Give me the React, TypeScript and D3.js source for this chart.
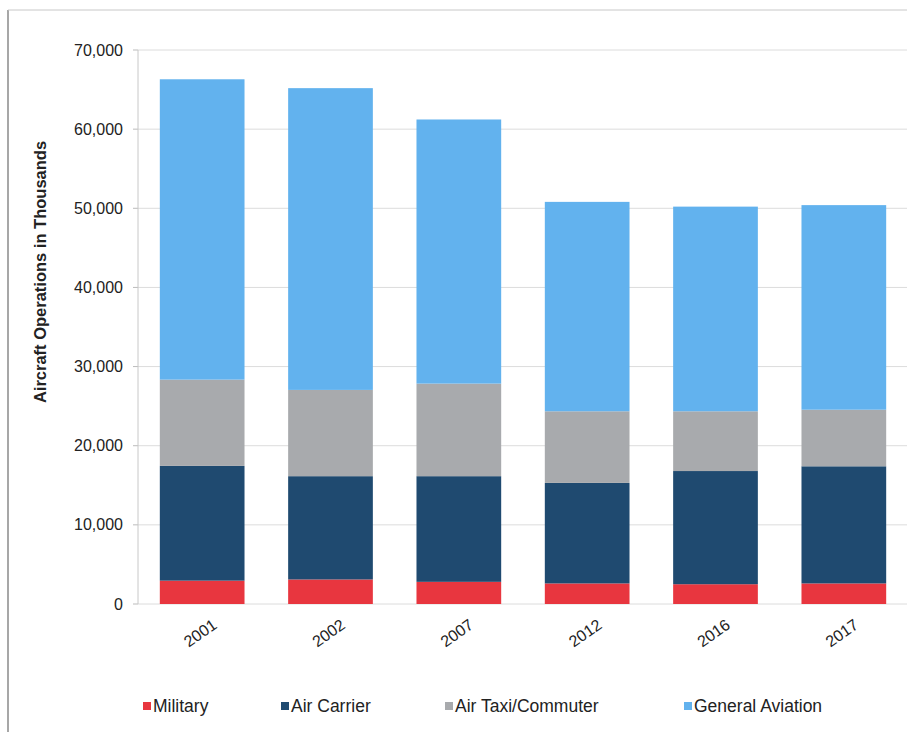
import React from "react";
import * as d3 from "d3";

const years = ["2001", "2002", "2007", "2012", "2016", "2017"];
const military = [2950, 3100, 2800, 2600, 2500, 2600];
const airCarrier = [14500, 13050, 13350, 12700, 14300, 14800];
const airTaxi = [10900, 10900, 11700, 9050, 7550, 7150];
const generalAviation = [37950, 38130, 33370, 26460, 25860, 25850];
const seriesNames = ["Military", "Air Carrier", "Air Taxi/Commuter", "General Aviation"];
const yTicks = [0, 10000, 20000, 30000, 40000, 50000, 60000, 70000];
const colors = ["#e8363f", "#1f4a70", "#a8aaad", "#62b2ee"];

export default function App() {
  const W = 907, H = 732;
  const left = 138, right = 908, top = 50, bottom = 604;
  const x = d3.scaleBand<string>().domain(years).range([left, right]).paddingInner(0.34).paddingOuter(0.17);
  const y = d3.scaleLinear().domain([0, 70000]).range([bottom, top]);
  const rows = years.map((yr, i) => ({
    year: yr,
    Military: military[i],
    "Air Carrier": airCarrier[i],
    "Air Taxi/Commuter": airTaxi[i],
    "General Aviation": generalAviation[i],
  }));
  const stacked = d3.stack<any>().keys(seriesNames)(rows);
  const fmt = d3.format(",");
  const legendX = [143, 281, 445, 684];
  const font = "Arial, 'Liberation Sans', sans-serif";

  return (
    <svg width={W} height={H} style={{ position: "absolute", left: 0, top: 0, background: "#fff" }} fontFamily={font}>
      <line x1={8} x2={8} y1={10} y2={H} stroke="#8a8a8a" strokeWidth={1.5} />
      <line x1={8} x2={W} y1={10} y2={10} stroke="#c8c8c8" strokeWidth={1} />
      {yTicks.map((t) => (
        <g key={t}>
          <line x1={left} x2={right} y1={y(t)} y2={y(t)} stroke="#dcdcdc" strokeWidth={1} />
          <line x1={left - 5} x2={left} y1={y(t)} y2={y(t)} stroke="#bbb" />
          <text x={123} y={y(t)} dy="0.35em" textAnchor="end" fontSize={16} fill="#222">{fmt(t)}</text>
        </g>
      ))}
      <line x1={left} x2={left} y1={top} y2={bottom} stroke="#c8c8c8" />
      {stacked.map((s, si) => (
        <g key={seriesNames[si]} fill={colors[si]}>
          {s.map((d, i) => (
            <rect key={i} x={x(years[i])} width={x.bandwidth()} y={y(d[1])} height={y(d[0]) - y(d[1])} />
          ))}
        </g>
      ))}
      {years.map((yr) => {
        const cx = (x(yr) as number) + x.bandwidth() / 2;
        return (
          <text key={yr} transform={`translate(${cx - 2},${633}) rotate(-35)`} textAnchor="middle" dy="0.35em" fontSize={16} fill="#222">{yr}</text>
        );
      })}
      <text transform={`translate(40,${272}) rotate(-90)`} textAnchor="middle" dy="0.35em" fontSize={16.5} fontWeight="bold" fill="#222">
        Aircraft Operations in Thousands
      </text>
      {seriesNames.map((n, i) => (
        <g key={n}>
          <rect x={legendX[i]} y={702} width={8} height={8} fill={colors[i]} />
          <text x={legendX[i] + 10} y={706} dy="0.35em" fontSize={17.5} fill="#222">{n}</text>
        </g>
      ))}
    </svg>
  );
}
